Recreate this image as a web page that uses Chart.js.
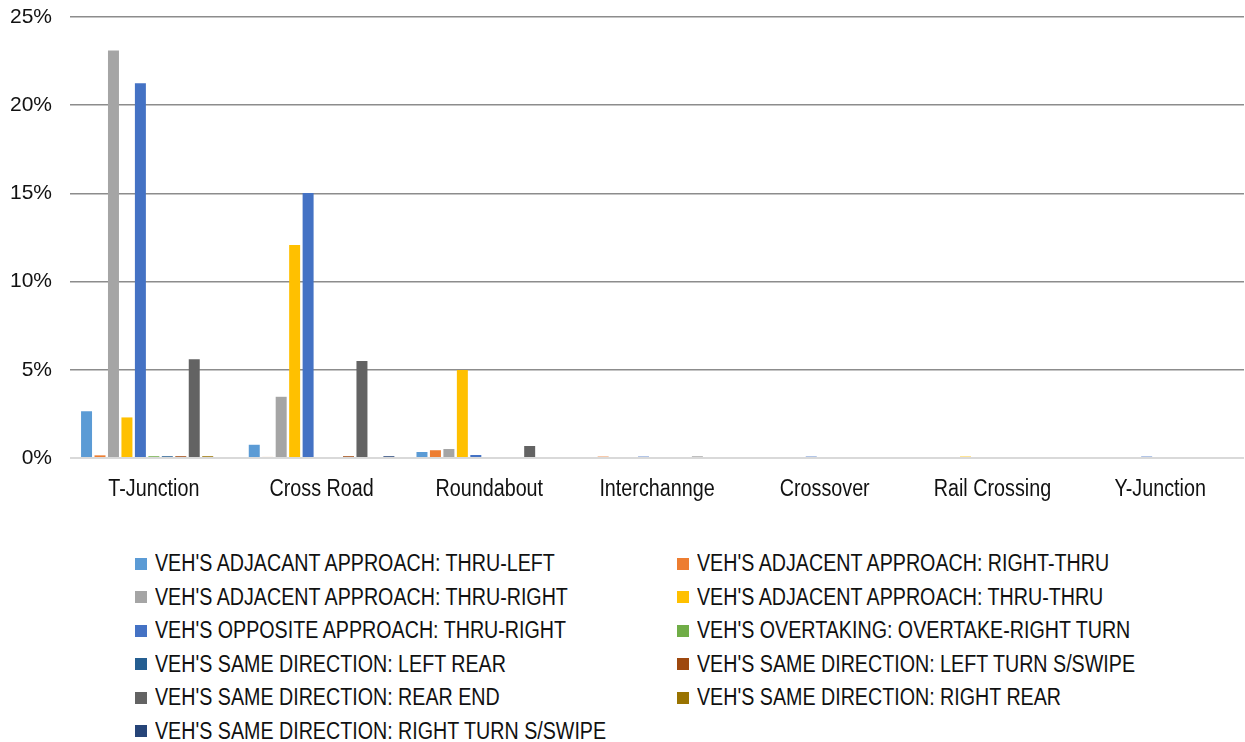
<!DOCTYPE html>
<html>
<head>
<meta charset="utf-8">
<script src="https://cdn.jsdelivr.net/npm/chart.js@4/dist/chart.umd.min.js"></script>
<style>
    body { margin: 0; background: #fff; }
    #wrap { position: relative; width: 1245px; height: 502px; }
    #legend {
        display: grid;
        grid-template-columns: 542px 542px;
        margin: 45px 0 0 135px;
        font-family: "Liberation Sans", Arial, sans-serif;
        font-size: 23.5px;
        color: #111;
    }
    .legend-item { display: flex; align-items: center; height: 33.5px; white-space: nowrap; }
    .legend-box { width: 12px; height: 12px; margin-right: 8px; flex: none; }
    /* the original uses a narrow face; squeeze the regular one instead */
    .legend-text { display: inline-block; transform: scaleX(0.837); transform-origin: left center; }
</style>
</head>
<body>
<div id="wrap"><canvas id="chart"></canvas></div>
<div id="legend"></div>
<script>
// --- DATA ---
const categories = ['T-Junction', 'Cross Road', 'Roundabout', 'Interchannge', 'Crossover', 'Rail Crossing', 'Y-Junction'];

const seriesNames = [
    "VEH'S ADJACANT APPROACH: THRU-LEFT",
    "VEH'S ADJACENT APPROACH: RIGHT-THRU",
    "VEH'S ADJACENT APPROACH: THRU-RIGHT",
    "VEH'S ADJACENT APPROACH: THRU-THRU",
    "VEH'S OPPOSITE APPROACH: THRU-RIGHT",
    "VEH'S OVERTAKING: OVERTAKE-RIGHT TURN",
    "VEH'S SAME DIRECTION: LEFT REAR",
    "VEH'S SAME DIRECTION: LEFT TURN S/SWIPE",
    "VEH'S SAME DIRECTION: REAR END",
    "VEH'S SAME DIRECTION: RIGHT REAR",
    "VEH'S SAME DIRECTION: RIGHT TURN S/SWIPE",
];

// percent of crashes, per junction type
const adjThruLeft    = [2.65, 0.75, 0.34, 0, 0, 0, 0];
const adjRightThru   = [0.15, 0.06, 0.44, 0.08, 0, 0, 0];
const adjThruRight   = [23.1, 3.47, 0.51, 0, 0, 0, 0];
const adjThruThru    = [2.3, 12.07, 4.99, 0, 0, 0.08, 0];
const oppThruRight   = [21.25, 15.02, 0.17, 0.08, 0.08, 0, 0.08];
const overtakeRight  = [0.1, 0, 0, 0, 0, 0, 0];
const sameLeftRear   = [0.1, 0, 0, 0, 0, 0, 0];
const sameLeftSwipe  = [0.1, 0.1, 0, 0, 0, 0, 0];
const sameRearEnd    = [5.6, 5.5, 0.68, 0.08, 0, 0, 0];
const sameRightRear  = [0.1, 0, 0, 0, 0, 0, 0];
const sameRightSwipe = [0, 0.1, 0, 0, 0, 0, 0];

const yTicks = [0, 5, 10, 15, 20, 25];

const seriesValues = [adjThruLeft, adjRightThru, adjThruRight, adjThruThru, oppThruRight,
    overtakeRight, sameLeftRear, sameLeftSwipe, sameRearEnd, sameRightRear, sameRightSwipe];
const colors = ['#5B9BD5', '#ED7D31', '#A5A5A5', '#FFC000', '#4472C4', '#70AD47',
    '#255E91', '#9E480E', '#636363', '#997300', '#264478'];

// Draws the category labels squeezed horizontally, at the x scale's own tick positions.
const narrowLabels = {
    id: 'narrowLabels',
    afterDraw(chart) {
        const scale = chart.scales.x;
        const ctx = chart.ctx;
        ctx.save();
        ctx.font = '23.5px "Liberation Sans", Arial, sans-serif';
        ctx.fillStyle = '#111';
        ctx.textAlign = 'center';
        ctx.textBaseline = 'middle';
        chart.data.labels.forEach((label, i) => {
            ctx.save();
            ctx.translate(scale.getPixelForTick(i), scale.top + 32);
            ctx.scale(0.84, 1);
            ctx.fillText(label, 0, 0);
            ctx.restore();
        });
        ctx.restore();
    },
};

const chart = new Chart(document.getElementById('chart'), {
    type: 'bar',
    data: {
        labels: categories,
        datasets: seriesValues.map((vals, i) => ({
            label: seriesNames[i],
            data: vals,
            backgroundColor: colors[i],
            borderWidth: 0,
            categoryPercentage: 0.883,
            barPercentage: 0.816,
        })),
    },
    options: {
        responsive: true,
        maintainAspectRatio: false,
        animation: false,
        layout: { padding: { top: 17, right: 1, left: 0, bottom: 0 } },
        plugins: { legend: { display: false }, tooltip: { enabled: false } },
        scales: {
            x: {
                grid: { display: false, drawTicks: false },
                border: { display: false },
                ticks: { display: false },
                afterFit: (scale) => { scale.height = 44; },
            },
            y: {
                min: 0,
                max: 25,
                afterFit: (scale) => {
                    scale.width = 70;
                    scale.paddingTop = 0;
                    scale.paddingBottom = 0;
                },
                afterBuildTicks: (scale) => { scale.ticks = yTicks.map(v => ({ value: v })); },
                grid: {
                    drawTicks: false,
                    color: (ctx) => ctx.tick && ctx.tick.value === 0 ? '#d9d9d9' : '#8c8c8c',
                    lineWidth: (ctx) => ctx.tick && ctx.tick.value === 0 ? 2 : 1.5,
                },
                border: { display: false },
                ticks: {
                    color: '#111',
                    padding: 18,
                    font: { family: '"Liberation Sans", Arial, sans-serif', size: 21 },
                    callback: (v) => v + '%',
                },
            },
        },
    },
    plugins: [narrowLabels],
});

// --- HTML LEGEND (two columns, row by row) ---
const legend = document.getElementById('legend');
chart.data.datasets.forEach(ds => {
    const item = document.createElement('div');
    item.className = 'legend-item';
    item.innerHTML = `<span class="legend-box" style="background:${ds.backgroundColor}"></span><span class="legend-text">${ds.label}</span>`;
    legend.appendChild(item);
});
</script>
</body>
</html>
